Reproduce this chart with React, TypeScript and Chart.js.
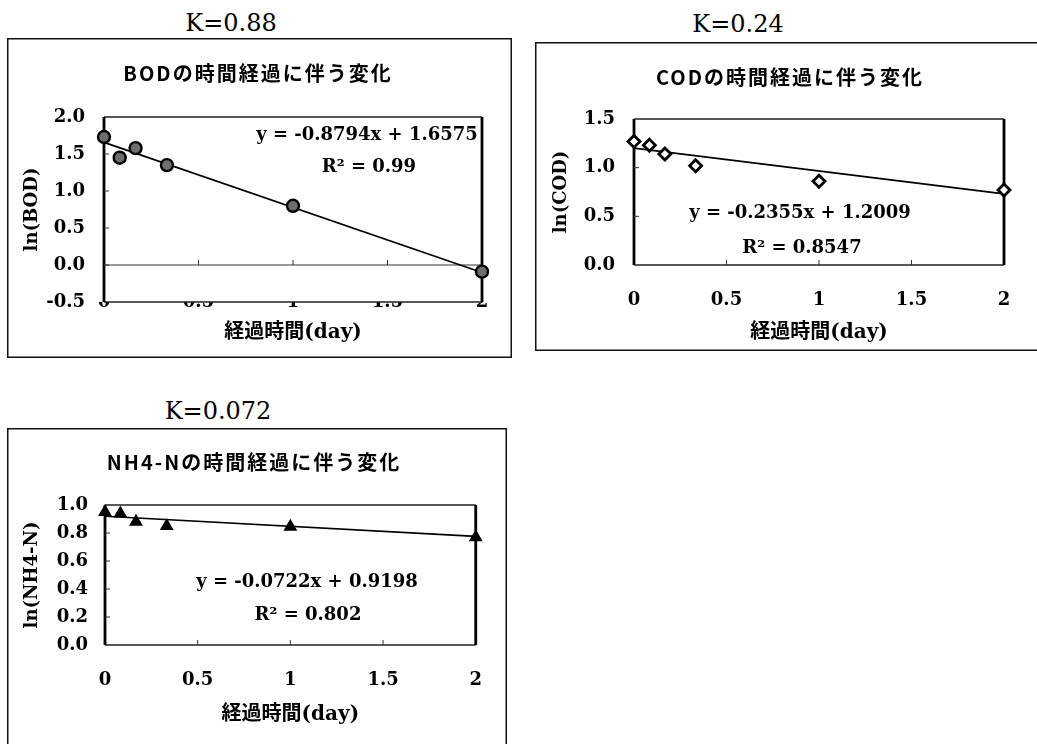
import React, { useEffect, useRef } from 'react';
import { Chart, registerables } from 'chart.js';

Chart.register(...registerables);

// ---- data ----
const timeDays = [0, 0.083, 0.167, 0.333, 1, 2];
const xTickValues = [0, 0.5, 1, 1.5, 2];
const xTickLabels = ['0', '0.5', '1', '1.5', '2'];

const bodLn = [1.73, 1.45, 1.58, 1.35, 0.8, -0.09];
const bodTrend = [-0.8794, 1.6575]; // slope, intercept
const bodR2 = '0.99';
const bodYTicks = [-0.5, 0, 0.5, 1, 1.5, 2];

const codLn = [1.27, 1.23, 1.14, 1.02, 0.86, 0.77];
const codTrend = [-0.2355, 1.2009];
const codR2 = '0.8547';
const codYTicks = [0, 0.5, 1, 1.5];

const nh4Ln = [0.95, 0.94, 0.88, 0.85, 0.845, 0.77];
const nh4Trend = [-0.0722, 0.9198];
const nh4R2 = '0.802';
const nh4YTicks = [0, 0.2, 0.4, 0.6, 0.8, 1];

const kLabels = ['K=0.88', 'K=0.24', 'K=0.072'];
const chartTitles = ['BODの時間経過に伴う変化', 'CODの時間経過に伴う変化', 'NH4-Nの時間経過に伴う変化'];
const yTitles = ['ln(BOD)', 'ln(COD)', 'ln(NH4-N)'];
const xTitle = '経過時間(day)';

const SERIF = "'DejaVu Serif', 'Noto Sans CJK JP', serif";

type Area = { left: number; top: number; right: number; bottom: number };

type PanelProps = {
  left: number;
  top: number;
  width: number;
  height: number;
  ys: number[];
  trend: number[];
  r2: string;
  yTicks: number[];
  yTitle: string;
  chartTitle: string;
  pointStyle: string;
  pointFill: string;
  pointBorder: number;
  area: Area;
  xLabelPad: number;
  xTitlePad: number;
  yTitlePad: number;
  yLabelPad: number;
  titlePos: number[];
  eqPos: number[];
  r2Pos: number[];
  borders: string;
  axisAtZero: boolean;
};

function Panel(p: PanelProps) {
  const ref = useRef<HTMLCanvasElement | null>(null);

  useEffect(() => {
    if (!ref.current) return;
    const [slope, intercept] = p.trend;
    const points = timeDays.map((x, i) => ({ x, y: p.ys[i] }));
    const trendPts = [
      { x: 0, y: intercept },
      { x: 2, y: slope * 2 + intercept },
    ];

    const decor = {
      id: 'decor',
      beforeDraw(chart: any) {
        const { ctx, width, height } = chart;
        ctx.save();
        ctx.strokeStyle = '#111';
        ctx.lineWidth = 1.5;
        ctx.beginPath();
        if (p.borders.includes('t')) { ctx.moveTo(0, 0.75); ctx.lineTo(width, 0.75); }
        if (p.borders.includes('b')) { ctx.moveTo(0, height - 0.75); ctx.lineTo(width, height - 0.75); }
        if (p.borders.includes('l')) { ctx.moveTo(0.75, 0); ctx.lineTo(0.75, height); }
        if (p.borders.includes('r')) { ctx.moveTo(width - 0.75, 0); ctx.lineTo(width - 0.75, height); }
        ctx.stroke();
        ctx.restore();
      },
      beforeDatasetsDraw(chart: any) {
        const { ctx, chartArea: a, scales } = chart;
        const xs = scales.x;
        const ys = scales.y;
        ctx.save();
        ctx.strokeStyle = '#222';
        ctx.lineWidth = 1.3;
        ctx.beginPath();
        ctx.moveTo(a.left, a.top); ctx.lineTo(a.right, a.top);
        ctx.moveTo(a.left, a.bottom); ctx.lineTo(a.right, a.bottom);
        ctx.stroke();
        ctx.strokeStyle = '#000';
        ctx.lineWidth = 2.8;
        ctx.beginPath();
        ctx.moveTo(a.left, a.top); ctx.lineTo(a.left, a.bottom);
        ctx.moveTo(a.right, a.top); ctx.lineTo(a.right, a.bottom);
        ctx.stroke();
        const axisY = p.axisAtZero ? ys.getPixelForValue(0) : a.bottom;
        ctx.strokeStyle = '#333';
        ctx.lineWidth = 1;
        ctx.beginPath();
        if (p.axisAtZero) { ctx.moveTo(a.left, axisY); ctx.lineTo(a.right, axisY); }
        xTickValues.slice(1, -1).forEach((v) => {
          const px = xs.getPixelForValue(v);
          ctx.moveTo(px, axisY); ctx.lineTo(px, axisY - 5);
        });
        p.yTicks.slice(1, -1).forEach((v) => {
          const py = ys.getPixelForValue(v);
          ctx.moveTo(a.left, py); ctx.lineTo(a.left + 5, py);
        });
        ctx.stroke();
        ctx.restore();
      },
      afterDraw(chart: any) {
        const { ctx } = chart;
        ctx.save();
        ctx.fillStyle = '#000';
        ctx.textAlign = 'center';
        ctx.textBaseline = 'middle';
        ctx.font = "bold 20px 'Noto Sans CJK JP'";
        (ctx as any).letterSpacing = '2px';
        ctx.fillText(p.chartTitle, p.titlePos[0], p.titlePos[1]);
        (ctx as any).letterSpacing = '0px';
        ctx.font = `bold 18px ${SERIF}`;
        ctx.fillText(`y = ${slope.toFixed(4)}x + ${intercept.toFixed(4)}`, p.eqPos[0], p.eqPos[1]);
        ctx.fillText(`R² = ${p.r2}`, p.r2Pos[0], p.r2Pos[1]);
        ctx.restore();
      },
    };

    const tickFont = { family: SERIF, size: 18, weight: 'bold' };
    const chart = new Chart(ref.current, {
      type: 'scatter',
      data: {
        datasets: [
          {
            data: points,
            pointStyle: p.pointStyle as any,
            pointRadius: 6,
            pointBackgroundColor: p.pointFill,
            pointBorderColor: '#000',
            pointBorderWidth: p.pointBorder,
            showLine: false,
            clip: false as any,
          },
          {
            data: trendPts,
            showLine: true,
            pointRadius: 0,
            borderColor: '#000',
            borderWidth: 1.7,
            clip: false as any,
          },
        ],
      },
      options: {
        animation: false,
        responsive: false,
        maintainAspectRatio: false,
        layout: {
          padding: { left: 0, top: p.area.top, right: p.width - p.area.right, bottom: 0 },
        },
        plugins: {
          legend: { display: false },
          tooltip: { enabled: false },
          title: { display: false },
        },
        scales: {
          x: {
            type: 'linear',
            position: 'bottom',
            min: 0,
            max: 2,
            afterFit: (s: any) => { s.height = p.height - p.area.bottom; },
            afterBuildTicks: (s: any) => { s.ticks = xTickValues.map((v) => ({ value: v })); },
            ticks: {
              autoSkip: false,
              maxRotation: 0,
              padding: p.xLabelPad,
              color: '#000',
              font: tickFont,
              callback: (v: any) => xTickLabels[xTickValues.indexOf(Number(v))],
            },
            grid: { display: false, drawTicks: false },
            border: { display: false },
            title: {
              display: true,
              text: xTitle,
              color: '#000',
              font: { family: SERIF, size: 20, weight: 'bold' },
              padding: { top: 0, bottom: p.xTitlePad },
            },
          },
          y: {
            type: 'linear',
            min: p.yTicks[0],
            max: p.yTicks[p.yTicks.length - 1],
            afterFit: (s: any) => { s.width = p.area.left; },
            afterBuildTicks: (s: any) => { s.ticks = p.yTicks.map((v) => ({ value: v })); },
            ticks: {
              autoSkip: false,
              padding: p.yLabelPad,
              color: '#000',
              font: tickFont,
              callback: (v: any) => Number(v).toFixed(1),
            },
            grid: { display: false, drawTicks: false },
            border: { display: false },
            title: {
              display: true,
              text: p.yTitle,
              color: '#000',
              font: { family: SERIF, size: 18, weight: 'bold' },
              padding: { top: p.yTitlePad, bottom: 0 },
            },
          },
        },
      } as any,
      plugins: [decor],
    });
    return () => chart.destroy();
  }, []);

  return (
    <canvas
      ref={ref}
      width={p.width}
      height={p.height}
      style={{ position: 'absolute', left: p.left, top: p.top, width: p.width, height: p.height }}
    />
  );
}

function KLabel({ text, x, y }: { text: string; x: number; y: number }) {
  return (
    <div
      style={{
        position: 'absolute',
        left: x,
        top: y,
        transform: 'translate(-50%, -50%)',
        font: `24px ${SERIF}`,
        lineHeight: 1,
        whiteSpace: 'nowrap',
        color: '#000',
      }}
    >
      {text}
    </div>
  );
}

export default function App() {
  return (
    <div style={{ position: 'absolute', left: 0, top: 0, width: 1037, height: 744, background: '#fff', overflow: 'hidden' }}>
      <KLabel text={kLabels[0]} x={231} y={23} />
      <KLabel text={kLabels[1]} x={738} y={24} />
      <KLabel text={kLabels[2]} x={218} y={411} />
      <Panel
        left={7} top={38} width={505} height={320}
        ys={bodLn} trend={bodTrend} r2={bodR2} yTicks={bodYTicks}
        yTitle={yTitles[0]} chartTitle={chartTitles[0]}
        pointStyle="circle" pointFill="#6e6e6e" pointBorder={2.4}
        area={{ left: 97, top: 79, right: 475, bottom: 264 }}
        xLabelPad={-10} xTitlePad={13} yTitlePad={15} yLabelPad={19}
        titlePos={[251, 35]} eqPos={[360, 97]} r2Pos={[362, 129]}
        borders="tlbr" axisAtZero={true}
      />
      <Panel
        left={535} top={42} width={502} height={309}
        ys={codLn} trend={codTrend} r2={codR2} yTicks={codYTicks}
        yTitle={yTitles[1]} chartTitle={chartTitles[1]}
        pointStyle="rectRot" pointFill="#ffffff" pointBorder={2.8}
        area={{ left: 99, top: 77, right: 469, bottom: 223 }}
        xLabelPad={25} xTitlePad={6} yTitlePad={16} yLabelPad={19}
        titlePos={[255, 35]} eqPos={[265, 171]} r2Pos={[267, 206]}
        borders="tlb" axisAtZero={false}
      />
      <Panel
        left={7} top={428} width={500} height={316}
        ys={nh4Ln} trend={nh4Trend} r2={nh4R2} yTicks={nh4YTicks}
        yTitle={yTitles[2]} chartTitle={chartTitles[2]}
        pointStyle="triangle" pointFill="#000000" pointBorder={2}
        area={{ left: 98, top: 77, right: 471, bottom: 217 }}
        xLabelPad={25} xTitlePad={17} yTitlePad={15} yLabelPad={17}
        titlePos={[247, 34]} eqPos={[300, 154]} r2Pos={[301, 187]}
        borders="tlr" axisAtZero={false}
      />
    </div>
  );
}
